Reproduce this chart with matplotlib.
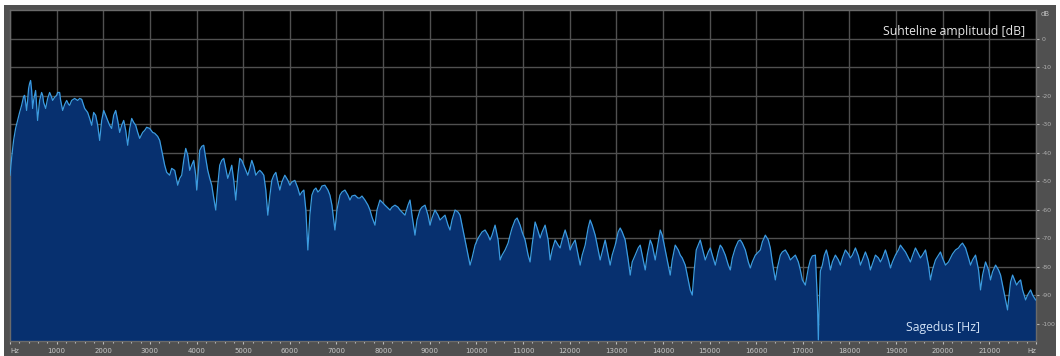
import matplotlib
matplotlib.use("Agg")
import matplotlib.pyplot as plt
from matplotlib.patches import Rectangle
from matplotlib.ticker import MultipleLocator

# ---- data ----
freq_hz = [0, 34, 77, 120, 163, 206, 249, 292, 313, 335, 356, 378, 399, 421, 442, 464, 485, 506, 549, 571,
           592, 614, 635, 678, 700, 721, 764, 807, 850, 893, 914, 957, 1000, 1021, 1064, 1086, 1129, 1172, 1215, 1258,
           1279, 1322, 1386, 1451, 1494, 1537, 1601, 1665, 1708, 1751, 1794, 1837, 1880, 1923, 1966, 2009, 2052, 2094,
           2137, 2180, 2223, 2266, 2309, 2352, 2395, 2438, 2481, 2524, 2567, 2610, 2652, 2695, 2738, 2781, 2845, 2888,
           2931, 2995, 3060, 3103, 3167, 3210, 3274, 3317, 3360, 3424, 3467, 3532, 3596, 3639, 3682, 3725, 3768, 3811,
           3854, 3896, 3939, 3982, 4004, 4047, 4068, 4111, 4154, 4197, 4240, 4283, 4326, 4369, 4412, 4455, 4497, 4540,
           4583, 4626, 4669, 4712, 4755, 4798, 4841, 4884, 4927, 4970, 5013, 5056, 5099, 5142, 5185, 5228, 5270, 5313,
           5356, 5399, 5442, 5485, 5528, 5571, 5614, 5657, 5700, 5743, 5786, 5829, 5893, 5958, 6001, 6044, 6108, 6172,
           6215, 6258, 6301, 6344, 6387, 6430, 6473, 6516, 6559, 6602, 6645, 6688, 6752, 6817, 6860, 6903, 6967, 7010,
           7075, 7118, 7182, 7246, 7289, 7332, 7397, 7461, 7504, 7547, 7611, 7676, 7719, 7762, 7826, 7869, 7933, 7976,
           8040, 8105, 8148, 8191, 8255, 8319, 8362, 8405, 8470, 8534, 8577, 8620, 8684, 8727, 8791, 8834, 8899, 8963,
           9006, 9049, 9113, 9178, 9221, 9264, 9328, 9392, 9435, 9478, 9543, 9607, 9650, 9693, 9757, 9822, 9865, 9908,
           9972, 10036, 10079, 10122, 10187, 10251, 10294, 10337, 10401, 10466, 10509, 10552, 10616, 10680, 10723,
           10766, 10831, 10874, 10938, 10981, 11045, 11110, 11152, 11195, 11260, 11303, 11367, 11410, 11474, 11539,
           11582, 11625, 11689, 11753, 11796, 11839, 11904, 11968, 12011, 12054, 12118, 12183, 12226, 12269, 12333,
           12397, 12440, 12483, 12548, 12612, 12655, 12698, 12762, 12826, 12869, 12912, 12977, 13041, 13084, 13127,
           13191, 13256, 13299, 13342, 13406, 13470, 13513, 13556, 13621, 13664, 13728, 13771, 13835, 13878, 13943,
           13986, 14050, 14114, 14157, 14200, 14264, 14329, 14372, 14415, 14479, 14543, 14586, 14629, 14672, 14715,
           14801, 14844, 14908, 14973, 15016, 15059, 15123, 15187, 15230, 15273, 15338, 15402, 15445, 15488, 15552,
           15617, 15660, 15703, 15767, 15831, 15874, 15917, 15982, 16046, 16089, 16132, 16196, 16260, 16303, 16346,
           16411, 16454, 16518, 16561, 16625, 16690, 16733, 16775, 16840, 16904, 16947, 16990, 17054, 17119, 17162,
           17205, 17269, 17312, 17333, 17355, 17376, 17419, 17462, 17505, 17548, 17591, 17634, 17698, 17763, 17806,
           17849, 17913, 17977, 18020, 18063, 18128, 18192, 18235, 18278, 18342, 18406, 18449, 18492, 18557, 18621,
           18664, 18707, 18771, 18836, 18879, 18922, 18986, 19050, 19093, 19136, 19201, 19265, 19308, 19351, 19415,
           19480, 19523, 19566, 19630, 19694, 19737, 19780, 19845, 19909, 19952, 19995, 20059, 20124, 20167, 20210,
           20274, 20338, 20381, 20424, 20489, 20553, 20596, 20639, 20703, 20768, 20811, 20854, 20918, 20982, 21025,
           21068, 21133, 21197, 21240, 21283, 21347, 21390, 21412, 21455, 21498, 21541, 21584, 21627, 21670, 21712,
           21777, 21820, 21884, 21927, 21991]

level_db = [-47.9, -42.0, -35.7, -31.5, -28.7, -25.9, -23.4, -20.3, -19.9, -22.4, -25.2, -21.7, -17.5, -15.7, -14.7,
            -18.2, -24.5, -21.7, -18.2, -23.4, -28.7, -25.2, -21.7, -18.9, -19.9, -22.4, -24.5, -21.0, -18.9, -20.6,
            -21.7, -20.6, -19.9, -18.9, -18.9, -21.7, -25.2, -23.1, -21.7, -23.1, -23.4, -21.7, -21.0, -21.7, -21.0,
            -21.3, -24.5, -25.9, -28.0, -30.4, -25.9, -26.9, -30.4, -35.7, -28.7, -25.2, -26.9, -28.7, -30.4, -31.5,
            -26.9, -25.2, -28.7, -32.9, -30.4, -28.7, -32.2, -37.4, -31.5, -28.0, -29.4, -30.4, -32.9, -35.0, -32.9,
            -32.2, -31.1, -31.5, -32.9, -33.2, -34.3, -35.7, -40.9, -44.4, -46.9, -47.9, -45.5, -46.2, -51.4, -49.0,
            -47.9, -42.7, -38.5, -40.9, -46.2, -44.4, -42.7, -47.9, -53.1, -44.4, -39.2, -37.8, -37.4, -42.0, -46.2,
            -49.0, -51.4, -55.9, -60.1, -51.4, -44.4, -42.7, -42.0, -45.5, -49.0, -46.9, -44.4, -49.7, -56.6, -47.9,
            -42.0, -42.7, -44.4, -46.2, -47.9, -45.5, -42.7, -44.8, -47.9, -46.9, -46.2, -46.9, -47.9, -53.1, -61.9,
            -55.2, -49.7, -47.9, -46.9, -50.3, -53.1, -50.3, -47.9, -49.7, -51.4, -50.3, -49.7, -52.4, -54.9, -53.8,
            -53.1, -60.1, -74.1, -61.9, -54.9, -53.1, -52.4, -53.8, -53.1, -51.7, -51.4, -53.1, -54.9, -58.4, -67.1,
            -60.1, -54.9, -53.8, -53.1, -54.9, -56.6, -55.2, -54.9, -55.9, -55.9, -55.2, -56.6, -58.4, -60.1, -62.6,
            -65.4, -60.1, -56.6, -57.3, -58.4, -59.4, -60.1, -59.1, -58.4, -59.1, -60.1, -60.8, -61.9, -58.4, -56.6,
            -61.9, -68.9, -63.6, -60.1, -59.1, -58.4, -61.9, -65.4, -62.9, -60.1, -61.9, -63.6, -62.9, -61.9, -65.4,
            -67.1, -63.6, -60.1, -60.8, -61.9, -65.4, -70.6, -75.9, -79.4, -76.9, -72.4, -70.0, -68.9, -67.8, -67.1,
            -68.9, -70.6, -68.9, -65.4, -70.6, -77.6, -75.9, -74.1, -71.7, -68.9, -66.4, -63.6, -62.9, -65.4, -67.8,
            -70.6, -75.9, -78.3, -72.4, -64.3, -66.4, -69.9, -67.8, -65.4, -70.6, -77.6, -74.1, -70.6, -72.4, -73.4,
            -70.6, -67.1, -70.6, -74.1, -72.4, -70.6, -75.9, -79.4, -75.9, -72.4, -66.4, -63.6, -65.4, -68.9, -74.1,
            -77.6, -74.8, -70.6, -75.9, -79.4, -75.9, -72.4, -67.8, -66.4, -67.8, -70.6, -77.6, -82.9, -78.3, -75.9,
            -73.4, -72.4, -75.9, -81.1, -75.9, -70.6, -72.4, -77.6, -73.4, -67.1, -68.9, -74.1, -79.4, -82.9, -77.6,
            -72.4, -74.1, -75.9, -76.9, -79.4, -84.6, -88.1, -89.9, -81.1, -74.1, -70.6, -73.4, -77.6, -74.8, -73.4,
            -75.9, -79.4, -74.8, -72.4, -73.4, -75.9, -79.4, -81.1, -76.9, -73.4, -71.0, -70.6, -71.7, -74.1, -78.3,
            -80.4, -78.3, -75.9, -74.8, -74.1, -71.3, -68.9, -70.6, -73.4, -78.3, -84.6, -80.4, -75.9, -74.8, -74.1,
            -75.9, -77.6, -76.9, -75.9, -78.3, -81.1, -84.6, -86.4, -80.4, -77.6, -76.2, -75.9, -91.6, -105.6, -91.6,
            -81.5, -79.4, -75.9, -74.1, -76.9, -81.1, -78.3, -75.9, -77.6, -79.4, -76.9, -74.1, -75.5, -76.9, -75.9,
            -73.4, -76.2, -79.4, -77.6, -74.8, -77.6, -81.1, -79.0, -75.9, -76.9, -78.3, -76.9, -74.1, -77.6, -80.4,
            -78.3, -75.9, -74.1, -72.4, -73.4, -74.8, -76.9, -78.3, -76.2, -73.4, -75.5, -76.9, -75.9, -74.1, -79.4,
            -84.6, -81.1, -77.6, -75.9, -74.8, -76.9, -79.4, -78.3, -76.9, -75.5, -74.1, -73.4, -72.4, -71.7, -73.4,
            -76.9, -79.4, -77.6, -75.9, -81.1, -88.1, -82.9, -78.3, -81.1, -84.6, -81.8, -79.4, -81.1, -82.9, -86.4,
            -91.6, -95.1, -91.6, -85.3, -82.9, -84.6, -86.4, -85.3, -84.6, -88.1, -91.6, -89.9, -88.1, -89.9, -91.6]

x_tick_hz = list(range(0, 22001, 1000))
x_tick_labels = ["Hz"] + [str(v) for v in range(1000, 22000, 1000)] + ["Hz"]
y_tick_db = [0, -10, -20, -30, -40, -50, -60, -70, -80, -90, -100]
y_tick_labels = ["0", "-10", "-20", "-30", "-40", "-50", "-60", "-70", "-80", "-90", "-100"]

W, H = 1060, 356
fig = plt.figure(figsize=(W / 100, H / 100), dpi=100, facecolor="white")
fig.patches.append(Rectangle((4 / W, 0), (1056 - 4) / W, (H - 5) / H, transform=fig.transFigure,
                             facecolor="#505050", edgecolor="none", zorder=-10))

ax = fig.add_axes([10 / W, 1 - 341 / H, (1036 - 10) / W, (341 - 10) / H])
ax.set_zorder(1)
ax.set_facecolor("black")
ax.set_xlim(0, 22000)
ax.set_ylim(-106, 10)

ax.set_xticks(x_tick_hz)
ax.set_xticklabels(x_tick_labels)
ax.xaxis.set_minor_locator(MultipleLocator(200))
ax.yaxis.tick_right()
ax.set_yticks(y_tick_db)
ax.set_yticklabels(y_tick_labels)

ax.grid(True, which="major", color="#505050", linewidth=1.0, zorder=0)
ax.set_axisbelow(True)

ax.fill_between(freq_hz, level_db, -106, color="#07306f", linewidth=0, zorder=2)
ax.plot(freq_hz, level_db, color="#3b9be0", linewidth=0.9, zorder=3)

ax.tick_params(axis="x", which="both", colors="#bdbdbd", labelsize=5, length=2, width=0.8, pad=3)
ax.tick_params(axis="x", which="minor", length=1.5)
ax.tick_params(axis="y", colors="#b0b0b0", labelsize=4.5, length=2, pad=2)
for lab in ax.get_xticklabels():
    lab.set_color("#c8c8c8")
xl = ax.get_xticklabels()
xl[0].set_ha("left")
xl[-1].set_ha("right")

for s in ax.spines.values():
    s.set_color("#6a6a6a")
    s.set_linewidth(1.0)

ax.text(0.9895, 0.935, "Suhteline amplituud [dB]", transform=ax.transAxes, ha="right", va="center",
        color="#e6e6e6", fontsize=8.8, family=["Open Sans", "DejaVu Sans"])
ax.text(0.945, 0.042, "Sagedus [Hz]", transform=ax.transAxes, ha="right", va="center",
        color="#cfe0f5", fontsize=8.8, family=["Open Sans", "DejaVu Sans"])
fig.text(1045 / W, 1 - 14 / H, "dB", ha="center", va="center", color="#bdbdbd", fontsize=5)

fig.savefig("out.png", dpi=100, facecolor="white")
